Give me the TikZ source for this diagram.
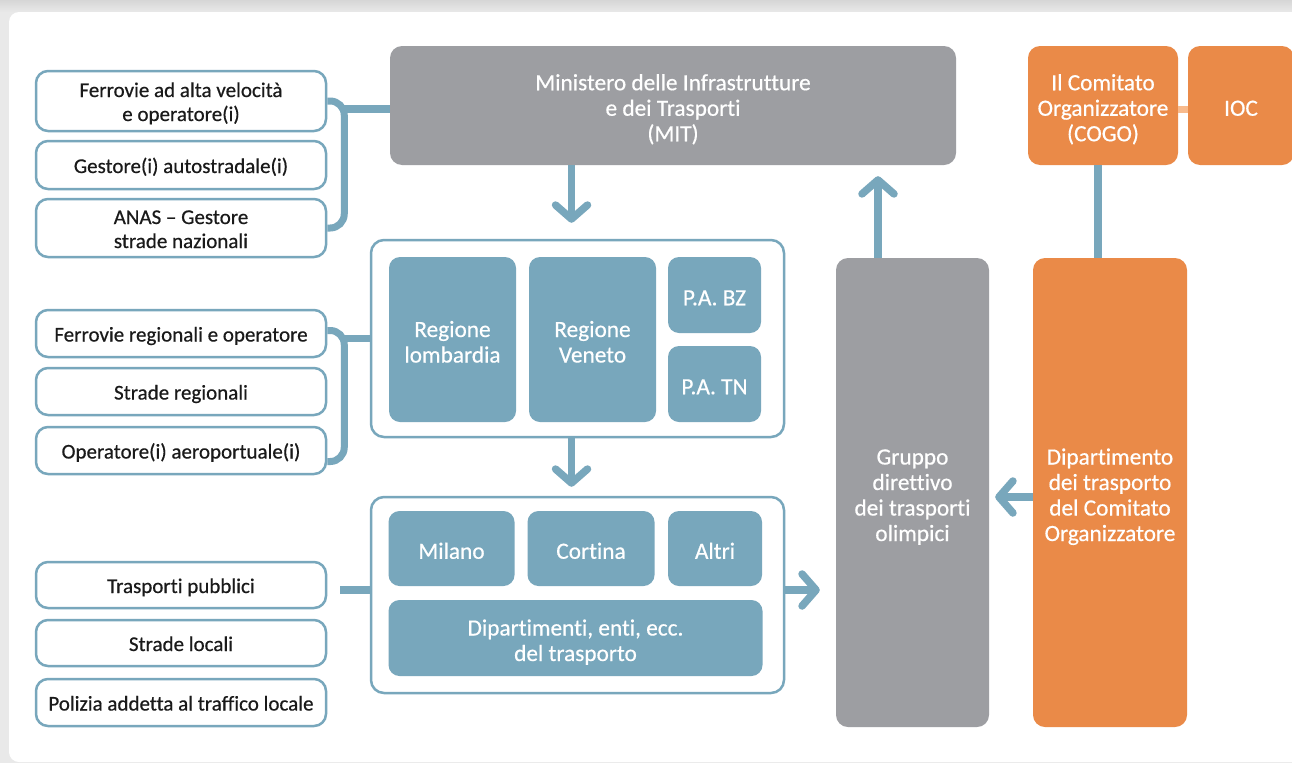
\documentclass[tikz,border=0pt]{standalone}
\usepackage{fontspec}
\setmainfont{Carlito}[Ligatures=NoCommon, UprightFeatures={FakeBold=0.5}]
\usetikzlibrary{arrows.meta,calc}
\definecolor{sb}{HTML}{78A7BC}
\definecolor{gr}{HTML}{9D9EA2}
\definecolor{orn}{HTML}{EA8A48}
\definecolor{lorn}{HTML}{F8BA8C}
\definecolor{bgc}{HTML}{E9E9E9}
\definecolor{txt}{HTML}{1A1A1A}
\newcommand{\blkfont}{\fontsize{21}{24}\selectfont}
\newcommand{\whtfont}{\fontsize{23.3}{25.5}\selectfont}
\begin{document}
\begin{tikzpicture}[x=1pt,y=-1pt,
  blktxt/.style={font=\blkfont, text=txt, align=center,
    execute at begin node={\def\Ts{\rule{0pt}{23.5pt}}}, execute at end node={\rule[-7.5pt]{0pt}{7.5pt}}},
  whttxt/.style={font=\whtfont, text=white, align=center,
    execute at begin node={\def\Ts{\rule{0pt}{28pt}}}, execute at end node={\rule[-7.5pt]{0pt}{7.5pt}}},
  lbox/.style={draw=sb, line width=2.5pt, fill=white, rounded corners=12pt, minimum width=290pt, inner sep=0pt, blktxt},
  grpframe/.style={draw=sb, line width=2.5pt, fill=white, rounded corners=13pt, minimum width=413pt, inner sep=0pt},
  sbox/.style={fill=sb, rounded corners=11pt, inner sep=0pt, whttxt},
  gbox/.style={fill=gr, rounded corners=12pt, inner sep=0pt, whttxt},
  obox/.style={fill=orn, rounded corners=12pt, inner sep=0pt, whttxt},
  conn/.style={draw=sb, line width=7.5pt},
  brk/.style={draw=sb, line width=7pt, rounded corners=14pt},
  arr/.style={conn, -{Straight Barb[length=14pt,width=32pt,round]}},
]
\useasboundingbox (0,0) rectangle (1292,763);
\fill[bgc] (0,0) rectangle (1292,763);
\shade[top color=black!16, bottom color=bgc] (0,0) rectangle (1292,12);
\fill[white, rounded corners=10pt] (9,12) rectangle (1330,762);

% left boxes
\node[lbox, minimum height=60pt] (f1) at (181,101) {\Ts Ferrovie ad alta velocità\\e operatore(i)};
\node[lbox, minimum height=48pt] (f2) at (181,165) {\Ts Gestore(i) autostradale(i)};
\node[lbox, minimum height=58pt] (f3) at (181,228) {\Ts ANAS – Gestore\\strade nazionali};
\node[lbox, minimum height=47pt] (m1) at (181,333.5) {\Ts Ferrovie regionali e operatore};
\node[lbox, minimum height=47pt] (m2) at (181,391.5) {\Ts Strade regionali};
\node[lbox, minimum height=47pt] (m3) at (181,450.5) {\Ts Operatore(i) aeroportuale(i)};
\node[lbox, minimum height=46pt] (l1) at (181,585) {\Ts Trasporti pubblici};
\node[lbox, minimum height=46pt] (l2) at (181,643) {\Ts Strade locali};
\node[lbox, minimum height=47pt] (l3) at (181,702.5) {\Ts Polizia addetta al traffico locale};

% top row
\node[gbox, minimum width=566pt, minimum height=119pt] (mit) at (673,105.5) {\Ts Ministero delle Infrastrutture\\e dei Trasporti\\(MIT)};
\node[obox, minimum width=150pt, minimum height=119pt] (cogo) at (1103,105.5) {\Ts Il Comitato\\Organizzatore\\(COGO)};
\node[obox, minimum width=106pt, minimum height=119pt] (ioc) at (1241,105.5) {\Ts IOC};

% regions
\node[grpframe, minimum height=197pt] (reg) at (577.5,338.5) {};
\node[sbox, minimum width=127pt, minimum height=165pt] (rl) at (452.5,339.5) {\Ts Regione\\lombardia};
\node[sbox, minimum width=127pt, minimum height=165pt] (rv) at (592.5,339.5) {\Ts Regione\\Veneto};
\node[sbox, minimum width=93pt, minimum height=76pt] (bz) at (714.5,295) {\Ts P.A. BZ};
\node[sbox, minimum width=93pt, minimum height=76pt] (tn) at (714.5,384) {\Ts P.A. TN};

% municipalities
\node[grpframe, minimum height=196pt] (com) at (577.5,595) {};
\node[sbox, minimum width=126pt, minimum height=75pt] (mi) at (451.5,548.5) {\Ts Milano};
\node[sbox, minimum width=127pt, minimum height=75pt] (co) at (591,548.5) {\Ts Cortina};
\node[sbox, minimum width=94pt, minimum height=75pt] (al) at (715,548.5) {\Ts Altri};
\node[sbox, minimum width=374pt, minimum height=76pt] (dp) at (575.5,638) {\Ts Dipartimenti, enti, ecc.\\del trasporto};

% right columns
\node[gbox, minimum width=153pt, minimum height=469pt] (grp) at (912.5,492.5) {\Ts Gruppo\\direttivo\\dei trasporti\\olimpici};
\node[obox, minimum width=154pt, minimum height=469pt] (dip) at (1110,492.5) {\Ts Dipartimento\\dei trasporto\\del Comitato\\Organizzatore};

% brackets
\draw[brk] (f1.east) -- ++(17,0) |- (f3.east);
\coordinate (bt) at ($(f1.east)+(17,8)$);
\draw[conn] (bt) -- (bt -| mit.west);
\draw[brk] ($(m1.east)+(0,-3)$) -- ++(17,0) |- ($(m3.east)+(0,11)$);
\coordinate (bm) at ($(m1.east)+(17,0)$);
\draw[conn] (reg.west -| bm) -- (reg.west);
\coordinate (ll) at ($(l1.east)+(13,5)$);
\draw[conn] (ll) -- (ll -| com.west);

% arrows
\draw[arr] ($(mit.south -| reg.north)+(-6,0)$) -- ($(reg.north)+(-6,-16)$);
\draw[arr] ($(reg.south)+(-6,0)$) -- ($(com.north)+(-6,-9)$);
\draw[arr] ($(com.east)+(0,-5)$) -- ($(com.east -| grp.west)+(-16,-5)$);
\draw[arr] ($(grp.north)+(-34.5,0)$) -- ($(grp.north |- mit.south)+(-34.5,11)$);
\draw[arr] ($(dip.west)+(0,4.5)$) -- ($(grp.east)+(6,4.5)$);
\draw[conn] ($(cogo.south)+(-5,0)$) -- ($(cogo.south |- dip.north)+(-5,0)$);
\draw[draw=lorn, line width=7pt] ($(cogo.east)+(0,4)$) -- ($(ioc.west)+(0,4)$);
\end{tikzpicture}
\end{document}
